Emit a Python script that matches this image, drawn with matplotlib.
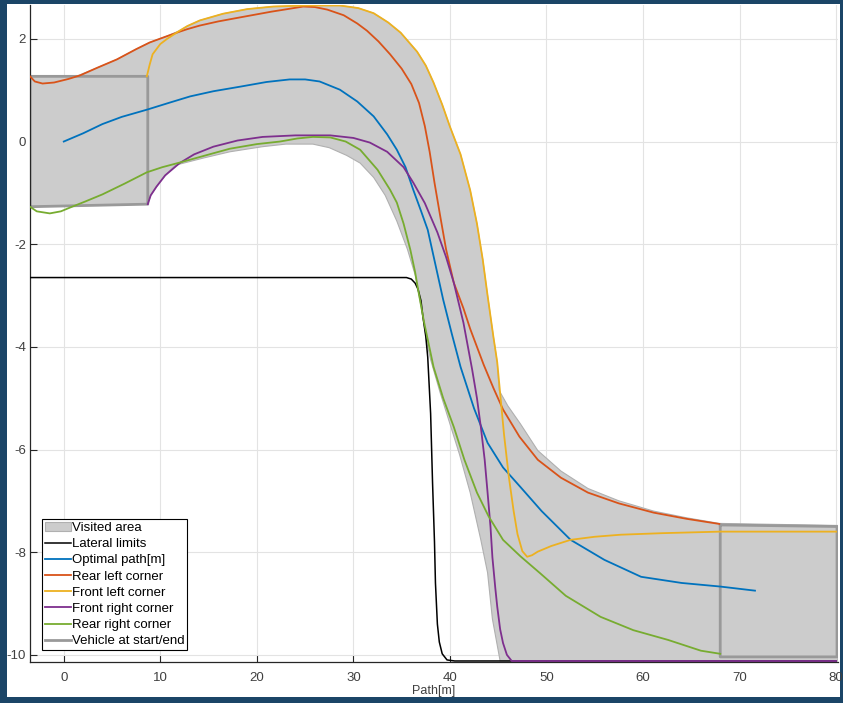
import matplotlib.pyplot as plt
from matplotlib.patches import Rectangle

plt.rcParams["font.family"] = ["Liberation Sans", "DejaVu Sans"]

# data
path_x = [0, 2, 4, 6, 8.6, 11, 13.1, 15.5, 18.3, 21, 23.4, 25, 26.5, 28.6, 30.4, 32.1, 33.5, 34.5, 35.4, 36.2, 37.0, 37.7, 38.5, 39.3, 40.2, 41.1, 42.5, 43.9, 45.5, 47.3, 49.5, 52.5, 56, 59.8, 64, 68, 71.6]
path_y = [0, 0.16, 0.34, 0.48, 0.62, 0.76, 0.88, 0.98, 1.07, 1.16, 1.21, 1.21, 1.17, 1.01, 0.78, 0.49, 0.14, -0.16, -0.5, -0.94, -1.35, -1.72, -2.4, -3.08, -3.75, -4.39, -5.2, -5.87, -6.35, -6.73, -7.2, -7.76, -8.15, -8.48, -8.6, -8.67, -8.75]

rl_x = [-3.5, -3.0, -2.2, -1.0, 0.5, 1.7, 3.5, 5.5, 7.5, 8.9, 10.5, 12, 12.8, 14.1, 16, 18.3, 21.5, 23.5, 24.8, 26, 27.3, 29, 30.4, 31.4, 32.6, 33.8, 35, 36, 36.8, 37.4, 37.9, 38.4, 39.0, 39.6, 40.4, 41.4, 42.1, 43.5, 44.5, 45.5, 47.2, 49.1, 51.5, 54.3, 57.5, 61.1, 64.5, 67.9]
rl_y = [1.27, 1.17, 1.13, 1.15, 1.22, 1.29, 1.44, 1.6, 1.8, 1.93, 2.04, 2.14, 2.19, 2.26, 2.34, 2.42, 2.53, 2.59, 2.63, 2.62, 2.57, 2.46, 2.30, 2.16, 1.95, 1.70, 1.42, 1.12, 0.75, 0.3, -0.2, -0.8, -1.46, -2.1, -2.75, -3.25, -3.65, -4.35, -4.8, -5.22, -5.75, -6.2, -6.55, -6.84, -7.05, -7.23, -7.35, -7.45]

fl_x = [8.6, 8.9, 9.2, 10.0, 10.7, 12.0, 12.8, 14.1, 16.5, 19, 21.7, 25, 28.6, 30.5, 32.1, 33.6, 34.9, 36.6, 37.5, 38.3, 39.2, 40.0, 41.1, 42.1, 42.8, 43.4, 43.9, 44.5, 44.9, 45.2, 45.6, 46.1, 46.6, 47.0, 47.5, 48.0, 48.5, 49.1, 50.5, 52.5, 55, 57.7, 62, 68, 80]
fl_y = [1.27, 1.5, 1.70, 1.90, 2.0, 2.16, 2.25, 2.36, 2.49, 2.58, 2.63, 2.65, 2.65, 2.6, 2.50, 2.32, 2.12, 1.75, 1.48, 1.15, 0.72, 0.29, -0.25, -0.95, -1.6, -2.3, -3.0, -3.8, -4.3, -4.9, -5.7, -6.53, -7.2, -7.65, -7.98, -8.09, -8.06, -7.99, -7.88, -7.76, -7.7, -7.66, -7.63, -7.6, -7.6]

fr_x = [8.7, 9.0, 9.6, 10.5, 12.0, 13.5, 15.5, 18, 20.6, 24, 27.6, 30, 31.7, 33.5, 35.2, 36.2, 37.4, 38.7, 39.6, 40.4, 41.4, 42.3, 42.8, 43.2, 43.6, 43.9, 44.2, 44.4, 44.7, 44.9, 45.2, 45.5, 45.9, 46.4, 80]
fr_y = [-1.22, -1.05, -0.88, -0.66, -0.42, -0.25, -0.10, 0.02, 0.09, 0.12, 0.12, 0.07, -0.02, -0.2, -0.5, -0.8, -1.2, -1.77, -2.25, -2.75, -3.53, -4.44, -5.0, -5.56, -6.2, -6.84, -7.5, -8.1, -8.7, -9.06, -9.5, -9.77, -10.0, -10.12, -10.12]

rr_x = [-3.5, -2.8, -1.45, -0.3, 0.6, 2.2, 4.0, 6.3, 8.6, 10.2, 12.0, 14.5, 17.2, 20, 22.4, 24.2, 25.8, 27.6, 29.2, 30.7, 32.5, 33.8, 34.5, 35.2, 35.9, 36.4, 36.7, 37.3, 38.3, 39.3, 40.4, 41.5, 42.8, 44.0, 45.5, 47.3, 49.4, 52, 55.6, 59, 62.6, 66, 68]
rr_y = [-1.27, -1.36, -1.40, -1.36, -1.29, -1.17, -1.03, -0.82, -0.6, -0.5, -0.41, -0.28, -0.14, -0.05, 0.0, 0.06, 0.09, 0.08, 0.0, -0.16, -0.55, -0.94, -1.19, -1.6, -2.11, -2.55, -2.88, -3.5, -4.39, -5.0, -5.56, -6.2, -6.84, -7.3, -7.76, -8.08, -8.42, -8.85, -9.26, -9.52, -9.71, -9.92, -9.98]

lim_x = [-3.5, 35.5, 36.0, 36.4, 36.7, 37.0, 37.2, 37.5, 37.7, 38.0, 38.2, 38.4, 38.5, 38.7, 38.9, 39.2, 39.7, 40.5, 80]
lim_y = [-2.65, -2.65, -2.68, -2.76, -2.88, -3.1, -3.41, -3.8, -4.2, -5.3, -6.65, -7.8, -8.6, -9.4, -9.75, -9.98, -10.1, -10.12, -10.12]

area_top_x = [-3.5, 1.3, 3.5, 5.5, 7.5, 8.9, 10.5, 12.0, 12.8, 14.1, 16.5, 19, 21.7, 25, 28.6, 30.5, 32.1, 33.6, 34.9, 36.6, 37.5, 38.3, 39.2, 40.0, 41.1, 42.1, 42.8, 43.4, 43.9, 44.5, 44.9, 45.1, 46.0, 47.3, 49.1, 51.5, 54.3, 57.5, 61.1, 64.5, 67.9, 80.2]
area_top_y = [1.27, 1.27, 1.44, 1.6, 1.8, 1.93, 2.04, 2.16, 2.25, 2.36, 2.49, 2.58, 2.63, 2.65, 2.65, 2.6, 2.50, 2.32, 2.12, 1.75, 1.48, 1.15, 0.72, 0.29, -0.25, -0.95, -1.6, -2.3, -3.0, -3.8, -4.3, -4.85, -5.15, -5.5, -6.02, -6.42, -6.76, -7.0, -7.2, -7.33, -7.44, -7.48]
area_bot_x = [-3.5, 8.7, 9.0, 9.6, 10.5, 11.5, 12.0, 14.5, 17.2, 20.6, 23, 25.8, 27.5, 29.3, 30.7, 32.1, 33.3, 34.5, 35.6, 36.4, 37.0, 37.7, 38.0, 39.0, 40.0, 41.0, 42.1, 43.2, 43.9, 44.4, 45.2, 80.2]
area_bot_y = [-1.27, -1.22, -1.05, -0.88, -0.66, -0.47, -0.44, -0.32, -0.2, -0.1, -0.05, -0.05, -0.12, -0.27, -0.42, -0.7, -1.05, -1.55, -2.1, -2.6, -3.2, -4.0, -4.25, -4.9, -5.5, -6.1, -6.84, -7.76, -8.4, -9.3, -10.12, -10.12]

start_box_x = [-3.5, 8.7, 8.7, -3.5, -3.5]
start_box_y = [-1.27, -1.22, 1.27, 1.27, -1.27]
end_box_x = [68.0, 80.1, 80.1, 68.0, 68.0]
end_box_y = [-7.47, -7.50, -10.04, -10.04, -7.47]

x_ticks = [0, 10, 20, 30, 40, 50, 60, 70, 80]
y_ticks = [2, 0, -2, -4, -6, -8, -10]

colors = {
    "path": "#0072BD",
    "rl": "#D95319",
    "fl": "#EDB120",
    "fr": "#7E2F8E",
    "rr": "#77AC30",
}


def main() -> None:
    fig = plt.figure(figsize=(8.43, 7.03), dpi=100, facecolor="#1b4567")
    fig.patches.append(Rectangle((7 / 843, 6 / 703), 833 / 843, 693 / 703,
                                 transform=fig.transFigure, facecolor="white",
                                 edgecolor="none", zorder=-5))
    ax = fig.add_axes([30 / 843, 41 / 703, 808 / 843, 657 / 703])
    ax.set_facecolor("white")

    area_x = area_top_x + area_bot_x[::-1]
    area_y = area_top_y + area_bot_y[::-1]
    ax.fill(area_x, area_y, color="#cccccc", lw=0.8, ec="#b0b0b0", label="Visited area", zorder=1)
    ax.plot(lim_x, lim_y, color="black", lw=1.1, label="Lateral limits", zorder=3)
    ax.plot(path_x, path_y, color=colors["path"], lw=1.3, label="Optimal path[m]", zorder=4)
    ax.plot(rl_x, rl_y, color=colors["rl"], lw=1.3, label="Rear left corner", zorder=4)
    ax.plot(fl_x, fl_y, color=colors["fl"], lw=1.3, label="Front left corner", zorder=4)
    ax.plot(fr_x, fr_y, color=colors["fr"], lw=1.3, label="Front right corner", zorder=4)
    ax.plot(rr_x, rr_y, color=colors["rr"], lw=1.3, label="Rear right corner", zorder=4)
    ax.plot(start_box_x, start_box_y, color="#999999", lw=2, label="Vehicle at start/end", zorder=2)
    ax.plot(end_box_x, end_box_y, color="#999999", lw=2, zorder=2)

    ax.set_xlim(-3.5, 80.2)
    ax.set_ylim(-10.14, 2.66)
    ax.set_xticks(x_ticks)
    ax.set_yticks(y_ticks)
    ax.set_xticklabels([str(t) for t in x_ticks])
    ax.set_yticklabels([str(t) for t in y_ticks])
    ax.tick_params(direction="in", length=5, width=0.8, labelsize=9.5,
                   labelcolor="#404040", color="#262626")
    ax.tick_params(axis="x", pad=7)
    ax.tick_params(axis="y", pad=3)
    ax.grid(True, color="#e3e3e3", lw=0.8)
    ax.set_axisbelow(True)
    for side in ("top", "right"):
        ax.spines[side].set_visible(False)
    for side in ("left", "bottom"):
        ax.spines[side].set_color("#262626")
        ax.spines[side].set_linewidth(0.9)

    ax.set_xlabel("Path[m]", fontsize=9, color="#404040", labelpad=1)

    leg = ax.legend(loc="lower left", bbox_to_anchor=(12 / 808, 12 / 657), fontsize=9.5,
                    frameon=True, fancybox=False, framealpha=1, edgecolor="black",
                    handlelength=2.0, handletextpad=0.05, labelspacing=0.3,
                    borderpad=0.2, borderaxespad=0)
    leg.get_frame().set_linewidth(0.8)

    fig.savefig("out.png", dpi=100, facecolor=fig.get_facecolor())
    plt.close(fig)


if __name__ == "__main__":
    main()
